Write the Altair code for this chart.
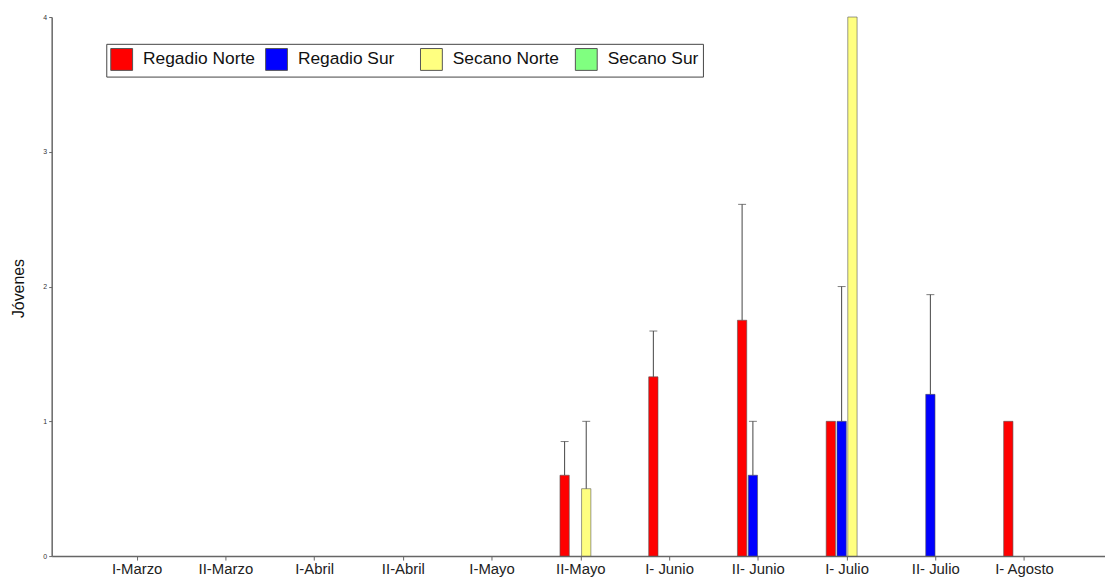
import altair as alt
import pandas as pd

categories = ["I-Marzo", "II-Marzo", "I-Abril", "II-Abril", "I-Mayo", "II-Mayo",
              "I- Junio", "II- Junio", "I- Julio", "II- Julio", "I- Agosto"]
series = ["Regadio Norte", "Regadio Sur", "Secano Norte", "Secano Sur"]
colors = ["#FF0000", "#0000FF", "#FFFF80", "#80FF80"]

regadio_norte = [None, None, None, None, None, 0.6, 1.33, 1.75, 1.0, None, 1.0]
regadio_norte_sup = [None, None, None, None, None, 0.85, 1.67, 2.61, None, None, None]
regadio_sur = [None, None, None, None, None, None, None, 0.6, 1.0, 1.2, None]
regadio_sur_sup = [None, None, None, None, None, None, None, 1.0, 2.0, 1.94, None]
secano_norte = [None, None, None, None, None, 0.5, None, None, 4.0, None, None]
secano_norte_sup = [None, None, None, None, None, 1.0, None, None, None, None, None]
secano_sur = [None] * 11
secano_sur_sup = [None] * 11

rows = []
for s, vals, sups in zip(series,
                         [regadio_norte, regadio_sur, secano_norte, secano_sur],
                         [regadio_norte_sup, regadio_sur_sup, secano_norte_sup, secano_sur_sup]):
    for c, v, e in zip(categories, vals, sups):
        if v is not None:
            rows.append({"periodo": c, "serie": s, "valor": v, "sup": e})
df = pd.DataFrame(rows)

FONT = "Liberation Sans"

x = alt.X("periodo:N", sort=categories,
          scale=alt.Scale(domain=categories, paddingInner=0.53, paddingOuter=0.7, align=0.52),
          axis=alt.Axis(title=None, labelAngle=0, labelFontSize=15, labelColor="#222",
                        labelFont=FONT, domainColor="#666", domainWidth=1.5,
                        tickColor="#666", tickSize=4, labelPadding=2))
xoff = alt.XOffset("serie:N", scale=alt.Scale(domain=series, paddingInner=0.14))
y = alt.Y("valor:Q", scale=alt.Scale(domain=[0, 4], nice=False),
          axis=alt.Axis(values=[0, 1, 2, 3, 4], format="d", title="Jóvenes", labelFontSize=7,
                        labelColor="#333", labelFont=FONT, grid=False,
                        domainColor="#666", domainWidth=1.5, tickColor="#666",
                        tickSize=3, titleFontSize=16, titleFont=FONT,
                        titleFontWeight="normal", titleColor="#111",
                        titleX=-25, titleY=273, titleAngle=270, titleBaseline="bottom"))

bars = alt.Chart(df).mark_bar(stroke="#555", strokeWidth=0.6).encode(
    x=x, xOffset=xoff, y=y,
    color=alt.Color("serie:N",
                    scale=alt.Scale(domain=series, range=colors),
                    legend=alt.Legend(title=None, orient="none", legendX=55, legendY=27,
                                      direction="horizontal", columns=4, gridAlign="all",
                                      symbolType="square", symbolSize=484,
                                      symbolStrokeColor="#555", symbolStrokeWidth=1,
                                      labelFontSize=17.5, labelFont=FONT, labelColor="#111",
                                      labelOffset=10, columnPadding=8,
                                      strokeColor="#444", fillColor="white", padding=4))
)

err = alt.Chart(df).transform_filter("isValid(datum.sup)").mark_rule(
    color="#444", strokeWidth=1).encode(x=x, xOffset=xoff, y="valor:Q", y2="sup:Q")

caps = alt.Chart(df).transform_filter("isValid(datum.sup)").mark_tick(
    color="#444", thickness=1, size=8).encode(x=x, xOffset=xoff, y="sup:Q")

chart = alt.layer(bars, err, caps).properties(
    width=1061, height=543,
    autosize=alt.AutoSizeParams(type="none"),
    padding={"left": 44, "top": 7, "right": 0, "bottom": 23},
).configure(font=FONT).configure_view(strokeWidth=0, stroke=None).configure_axis(grid=False)

chart.save("out.html", embed_options={"renderer": "svg", "actions": False})
